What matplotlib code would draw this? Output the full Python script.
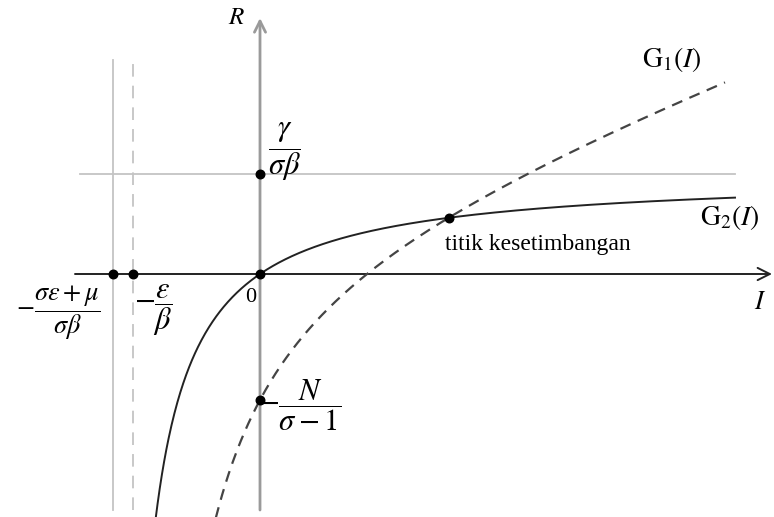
import numpy as np
import matplotlib
matplotlib.use("Agg")
import matplotlib.pyplot as plt

plt.rcParams["mathtext.fontset"] = "stix"
plt.rcParams["font.family"] = ["Liberation Serif", "DejaVu Serif"]

# Model parameters (plot units)
gamma_over_sigma_beta = 1.0        # horizontal asymptote of G2
asym_G2 = -1.47                    # -(sigma*eps + mu)/(sigma*beta)
asym_G1 = -1.27                    # -eps/beta
g1_slope, g1_const, g1_k = 0.36, 0.652, 2.428
N_intercept = g1_const - g1_k / (-asym_G1)   # G1(0) = -N/(sigma-1)

I_min, I_max = -2.60, 5.14
R_min, R_max = -2.43, 2.74


def G1(I):
    return g1_slope * I + g1_const - g1_k / (I - asym_G1)


def G2(I):
    return gamma_over_sigma_beta * I / (I - asym_G2)


# equilibrium: G1(I) = G2(I) for I > 0
lo, hi = 0.5, 4.0
for _ in range(80):
    mid = 0.5 * (lo + hi)
    if (G1(lo) - G2(lo)) * (G1(mid) - G2(mid)) <= 0:
        hi = mid
    else:
        lo = mid
I_eq = 0.5 * (lo + hi)
R_eq = G2(I_eq)

fig = plt.figure(figsize=(7.74, 5.17), dpi=100)
ax = fig.add_axes([0, 0, 1, 1])
ax.set_xlim(I_min, I_max)
ax.set_ylim(R_min, R_max)
ax.axis("off")

gray = "#9a9a9a"
light = "#c4c4c4"

# guide lines
ax.plot([-1.80, 4.75], [gamma_over_sigma_beta] * 2, color=light, lw=1.3, zorder=1)
ax.plot([asym_G2] * 2, [-2.36, 2.14], color=light, lw=1.3, zorder=1)
ax.plot([asym_G1] * 2, [-2.36, 2.14], color=light, lw=1.3,
        dashes=(7, 5), zorder=1)

# axes with open arrowheads
ax.annotate("", xy=(5.12, 0), xytext=(-1.85, 0),
            arrowprops=dict(arrowstyle="->", lw=1.4, color="#222222",
                            shrinkA=0, shrinkB=0, mutation_scale=22), zorder=3)
ax.annotate("", xy=(0, 2.56), xytext=(0, -2.36),
            arrowprops=dict(arrowstyle="->", lw=2.0, color=gray,
                            shrinkA=0, shrinkB=0, mutation_scale=20), zorder=2)

# curves
I2 = np.linspace(-1.12, 4.75, 800)
ax.plot(I2, G2(I2), color="#222222", lw=1.4, zorder=4)
I1 = np.linspace(-0.56, 4.65, 800)
ax.plot(I1, G1(I1), color="#444444", lw=1.6, dashes=(5, 3.5), zorder=4)

# marked points
pts_x = [asym_G2, asym_G1, 0, 0, 0, I_eq]
pts_y = [0, 0, 0, gamma_over_sigma_beta, N_intercept, R_eq]
ax.scatter(pts_x, pts_y, s=38, color="black", zorder=6)

# labels
ax.text(-0.23, 2.56, r"$R$", fontsize=18, ha="center", va="center")
ax.text(5.00, -0.29, r"$I$", fontsize=19, ha="center", va="center")
ax.text(-0.09, -0.23, "0", fontsize=16, ha="center", va="center")
ax.text(0.08, 1.22, r"$\dfrac{\gamma}{\sigma\beta}$", fontsize=22,
        ha="left", va="center")
ax.text(-2.02, -0.39, r"$-\dfrac{\sigma\varepsilon+\mu}{\sigma\beta}$",
        fontsize=19, ha="center", va="center")
ax.text(-1.07, -0.36, r"$-\dfrac{\varepsilon}{\beta}$", fontsize=22,
        ha="center", va="center")
ax.text(0.40, -1.31, r"$-\dfrac{N}{\sigma-1}$", fontsize=22,
        ha="center", va="center")
ax.text(4.12, 2.14, r"$\mathrm{G}_1(I)$", fontsize=20, ha="center", va="center")
ax.text(4.70, 0.56, r"$\mathrm{G}_2(I)$", fontsize=20, ha="center", va="center")
ax.text(1.85, 0.29, "titik kesetimbangan", fontsize=17, ha="left",
        va="center")

fig.savefig("out.png", dpi=100)
